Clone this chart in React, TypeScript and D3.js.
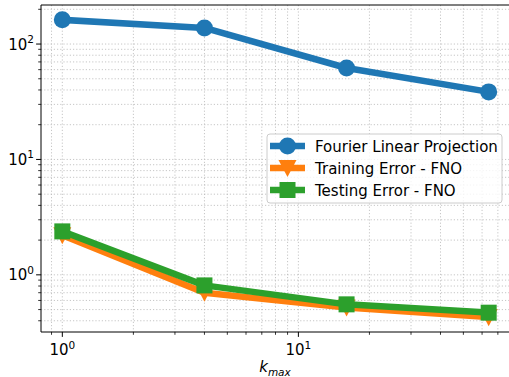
import React from "react";
import * as d3 from "d3";

const kmax = [1, 4, 16, 64];
const fourierLinear = [162, 138, 62, 38.5];
const trainingFNO = [2.2, 0.7, 0.52, 0.43];
const testingFNO = [2.38, 0.81, 0.555, 0.47];
const seriesNames = ["Fourier Linear Projection", "Training Error - FNO", "Testing Error - FNO"];
const seriesColors = ["#1f77b4", "#ff7f0e", "#2ca02c"];

const W = 509, H = 377;
const L = 41, T = 5, R = 510, B = 332;
const FS = 15;
const SFS = 10.5;

function logDomain(vals: number[]): [number, number] {
  const lo = Math.log10(d3.min(vals)!), hi = Math.log10(d3.max(vals)!);
  const m = (hi - lo) * 0.05;
  return [Math.pow(10, lo - m), Math.pow(10, hi + m)];
}

export default function App() {
  const x = d3.scaleLog().domain(logDomain(kmax)).range([L, R]);
  const allY = [...fourierLinear, ...trainingFNO, ...testingFNO];
  const y = d3.scaleLog().domain(logDomain(allY)).range([B, T]);

  const [x0, x1] = x.domain();
  const [y0, y1] = y.domain();
  const xMinor: number[] = [];
  const xMajor: number[] = [];
  for (let e = -1; e <= 2; e++) {
    for (let m = 1; m < 10; m++) {
      const v = m * Math.pow(10, e);
      if (v >= x0 && v <= x1) (m === 1 ? xMajor : xMinor).push(v);
    }
  }
  const yMinor: number[] = [];
  const yMajor: number[] = [];
  for (let e = -1; e <= 3; e++) {
    for (let m = 1; m < 10; m++) {
      const v = m * Math.pow(10, e);
      if (v >= y0 && v <= y1) (m === 1 ? yMajor : yMinor).push(v);
    }
  }

  const line = d3.line<[number, number]>().x(d => x(d[0])).y(d => y(d[1]));
  const series = [fourierLinear, trainingFNO, testingFNO];
  const order = [0, 1, 2];
  const font = "DejaVu Sans";
  const gridStyle = { stroke: "#b8b8b8", strokeWidth: 0.8, strokeDasharray: "1.2,2" };
  const LW = 6.5;

  const marker = (i: number, cx: number, cy: number, key: string) => {
    const c = seriesColors[i];
    if (i === 0) return <circle key={key} cx={cx} cy={cy} r={8.5} fill={c} />;
    if (i === 1) {
      const s = 9;
      return <path key={key} d={`M${cx - s},${cy - s * 0.9}L${cx + s},${cy - s * 0.9}L${cx},${cy + s}Z`} fill={c} />;
    }
    return <rect key={key} x={cx - 8} y={cy - 8} width={16} height={16} fill={c} />;
  };

  const sup = (e: number) => (
    <>
      10<tspan dy={-6.5} fontSize={SFS}>{e}</tspan>
    </>
  );

  const legX = 267, legY = 134, legW = 235, legH = 69;
  return (
    <svg width={W} height={H} style={{ position: "fixed", left: 0, top: 0, background: "#fff" }} fontFamily={font}>
      <defs>
        <clipPath id="clip"><rect x={L} y={T} width={R - L} height={B - T} /></clipPath>
      </defs>
      <rect x={0} y={0} width={W} height={H} fill="#fff" />
      <g>
        {[...xMajor, ...xMinor].map((v, i) => (
          <line key={"xg" + i} x1={x(v)} x2={x(v)} y1={T} y2={B} style={gridStyle} />
        ))}
        {[...yMajor, ...yMinor].map((v, i) => (
          <line key={"yg" + i} x1={L} x2={R} y1={y(v)} y2={y(v)} style={gridStyle} />
        ))}
      </g>
      <g clipPath="url(#clip)">
        {order.map(i => (
          <g key={"s" + i}>
            <path d={line(kmax.map((k, j) => [k, series[i][j]]))!} fill="none" stroke={seriesColors[i]} strokeWidth={LW} strokeLinejoin="round" strokeLinecap="square" />
            {kmax.map((k, j) => marker(i, x(k), y(series[i][j]), `m${i}-${j}`))}
          </g>
        ))}
      </g>
      {/* spines */}
      <line x1={L} x2={L} y1={T} y2={B} stroke="#000" strokeWidth={1} />
      <line x1={L} x2={R} y1={B} y2={B} stroke="#000" strokeWidth={1} />
      <line x1={L} x2={R} y1={T} y2={T} stroke="#000" strokeWidth={1} />
      {/* ticks */}
      {xMajor.map((v, i) => (
        <g key={"xt" + i}>
          <line x1={x(v)} x2={x(v)} y1={B} y2={B + 4.9} stroke="#000" strokeWidth={1} />
          <text x={x(v)} y={B + 23} textAnchor="middle" fontSize={FS} fill="#000">{sup(Math.round(Math.log10(v)))}</text>
        </g>
      ))}
      {xMinor.map((v, i) => (
        <line key={"xm" + i} x1={x(v)} x2={x(v)} y1={B} y2={B + 2.8} stroke="#000" strokeWidth={0.8} />
      ))}
      {yMajor.map((v, i) => (
        <g key={"yt" + i}>
          <line x1={L - 4.9} x2={L} y1={y(v)} y2={y(v)} stroke="#000" strokeWidth={1} />
          <text x={L - 7} y={y(v) + 5.5} textAnchor="end" fontSize={FS} fill="#000">{sup(Math.round(Math.log10(v)))}</text>
        </g>
      ))}
      {yMinor.map((v, i) => (
        <line key={"ym" + i} x1={L - 2.8} x2={L} y1={y(v)} y2={y(v)} stroke="#000" strokeWidth={0.8} />
      ))}
      <text x={(L + 509) / 2} y={372} textAnchor="middle" fontSize={FS} fill="#000" fontStyle="italic">
        k<tspan dy={3.5} fontSize={SFS}>max</tspan>
      </text>
      {/* legend */}
      <rect x={legX} y={legY} width={legW} height={legH} rx={3} fill="#fff" fillOpacity={0.8} stroke="#cccccc" strokeWidth={1} />
      {seriesNames.map((n, i) => {
        const cy = legY + 12 + i * 22;
        return (
          <g key={"l" + i}>
            <line x1={legX + 3} x2={legX + 38} y1={cy} y2={cy} stroke={seriesColors[i]} strokeWidth={LW} />
            {marker(i, legX + 20.5, cy, "lm" + i)}
            <text x={legX + 48} y={cy + 5.5} fontSize={FS} fill="#000">{n}</text>
          </g>
        );
      })}
    </svg>
  );
}
